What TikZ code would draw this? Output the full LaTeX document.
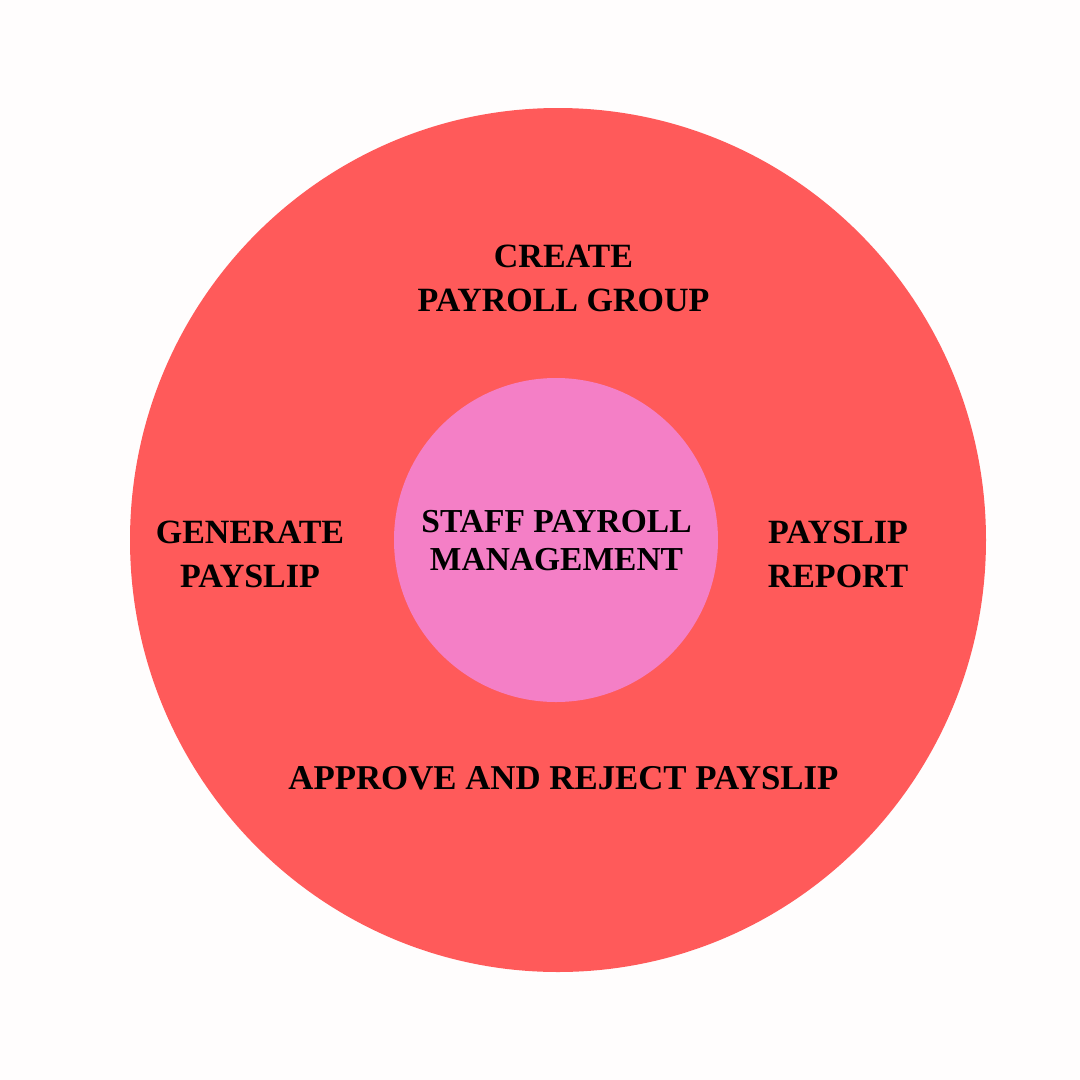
\documentclass[tikz,border=0pt]{standalone}
\usepackage{fontspec}
\setmainfont{Liberation Serif}
\usetikzlibrary{shapes.geometric}
\definecolor{bgc}{HTML}{FFFDFD}
\definecolor{outerred}{HTML}{FF5A5A}
\definecolor{innerpink}{HTML}{F47FC6}
\tikzset{
  lbl/.style={anchor=base, inner sep=0pt, text=black, font=\bfseries\fontsize{34}{44}\selectfont},
  clbl/.style={anchor=base, inner sep=0pt, text=black, font=\bfseries\fontsize{33.5}{38}\selectfont},
}
\newcommand{\mylines}[1]{\setlength{\tabcolsep}{0pt}\begin{tabular}[t]{c}#1\end{tabular}}
\begin{document}
\begin{tikzpicture}[x=1pt,y=-1pt]
\fill[bgc] (0,0) rectangle (1080,1080);
\useasboundingbox (0,0) rectangle (1080,1080);
\node[ellipse, fill=outerred, minimum width=856pt, minimum height=864pt, inner sep=0pt] (outer) at (558,540) {};
\node[circle, fill=innerpink, minimum size=324pt, inner sep=0pt] (inner) at (556,540) {};
\node[lbl] (create) at (563.5,267) {\mylines{CREATE\\PAYROLL GROUP}};
\node[lbl] (generate) at (250,543) {\mylines{GENERATE\\PAYSLIP}};
\node[lbl] (report) at (838,543) {\mylines{PAYSLIP\\REPORT}};
\node[clbl] (center) at (556.5,532) {\mylines{STAFF PAYROLL\\MANAGEMENT}};
\node[lbl, font=\bfseries\fontsize{34.8}{44}\selectfont] (approve) at (563.5,789) {APPROVE AND REJECT PAYSLIP};
\end{tikzpicture}
\end{document}
